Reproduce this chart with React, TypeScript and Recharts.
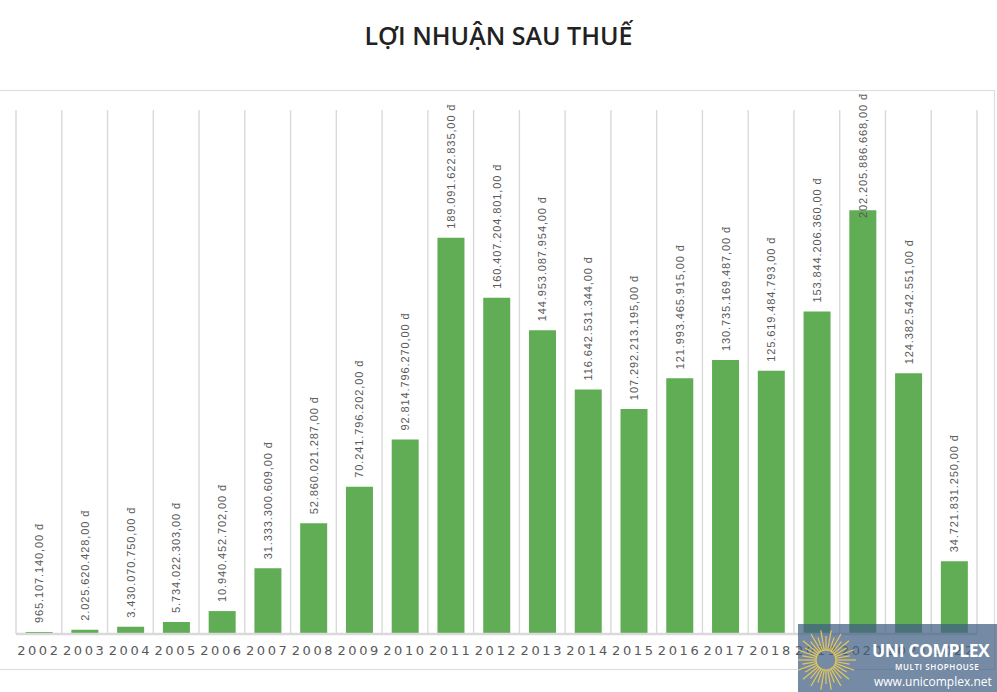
import { BarChart, Bar, XAxis, YAxis, CartesianGrid, LabelList } from 'recharts'

// Năm
const years = [
  '2002', '2003', '2004', '2005', '2006', '2007', '2008', '2009', '2010', '2011', '2012',
  '2013', '2014', '2015', '2016', '2017', '2018', '2019', '2020', '2021', '2022',
]

// Lợi nhuận sau thuế (đồng)
const profit = [
  965107140, 2025620428, 3430070750, 5734022303, 10940452702, 31333300609, 52860021287,
  70241796202, 92814796270, 189091622835, 160407204801, 144953087954, 116642531344,
  107292213195, 121993465915, 130735169487, 125619484793, 153844206360, 202205886668,
  124382542551, 34721831250,
]

const yDomain = [0, 250]

const data = years.map((year, i) => ({ year, value: profit[i] / 1e9, raw: profit[i] }))

const fmt = (n: number) => n.toLocaleString('de-DE', { minimumFractionDigits: 2, maximumFractionDigits: 2 }) + ' đ'

function ValueLabel(props: any) {
  const { x, y, width, index } = props
  const text = fmt(profit[index])
  const cx = x + width / 2
  // nhãn xoay dọc, đẩy xuống nếu vượt khung
  const len = text.length * 6.1
  const start = Math.max(y - 9, 96 + len)
  return (
    <text
      x={cx}
      y={start}
      transform={`rotate(-90, ${cx}, ${start})`}
      textAnchor="start"
      dominantBaseline="central"
      fontSize={11}
      letterSpacing={0.9}
      fill="#595959"
      fontFamily="'Liberation Sans', Arial, sans-serif"
    >
      {text}
    </text>
  )
}

function Watermark() {
  const rays = Array.from({ length: 36 }, (_, i) => (i * 360) / 36)
  return (
    <div
      style={{
        position: 'absolute',
        left: 798,
        top: 624,
        width: 199,
        height: 68,
        background: 'rgba(64, 94, 130, 0.72)',
        fontFamily: "'Open Sans', sans-serif",
        color: '#fff',
        overflow: 'hidden',
        whiteSpace: 'nowrap',
      }}
    >
      <svg width={60} height={68} style={{ position: 'absolute', left: 0, top: 0 }}>
        {rays.map((a) => {
          const r = (a * Math.PI) / 180
          const r2 = a % 20 === 0 ? 30 : 24
          return (
            <line
              key={a}
              x1={28 + Math.cos(r) * 10}
              y1={36 + Math.sin(r) * 10}
              x2={28 + Math.cos(r) * r2}
              y2={36 + Math.sin(r) * r2}
              stroke="#e6c65a"
              strokeWidth={1.2}
            />
          )
        })}
        <circle cx={28} cy={36} r={10} fill="none" stroke="#e6c65a" strokeWidth={1.2} />
      </svg>
      <div style={{ position: 'absolute', left: 74, top: 15, fontSize: 17.5, fontWeight: 700, lineHeight: '22px', letterSpacing: -0.4 }}>
        UNI COMPLEX
      </div>
      <div style={{ position: 'absolute', left: 97, top: 38, fontSize: 8, fontWeight: 600, letterSpacing: 0.6, lineHeight: '10px' }}>
        MULTI SHOPHOUSE
      </div>
      <div style={{ position: 'absolute', left: 76, top: 50, fontSize: 12, lineHeight: '16px' }}>www.unicomplex.net</div>
    </div>
  )
}

export default function App() {
  return (
    <div style={{ position: 'absolute', left: 0, top: 0, width: 997, height: 692, background: '#fff', overflow: 'hidden' }}>
      <div
        style={{
          position: 'absolute',
          left: 0,
          top: 18,
          width: 997,
          textAlign: 'center',
          fontFamily: "'Open Sans', 'Noto Sans', sans-serif",
          fontWeight: 600,
          fontSize: 25,
          color: '#222',
          lineHeight: '34px',
        }}
      >
        LỢI NHUẬN SAU THUẾ
      </div>
      <div
        style={{
          position: 'absolute',
          left: -10,
          top: 90,
          width: 1003,
          height: 578,
          border: '1.5px solid #dcdcdc',
        }}
      />
      <div style={{ position: 'absolute', left: 0, top: 0 }}>
        <BarChart
          width={997}
          height={692}
          data={data}
          margin={{ top: 110, right: 20, left: 16, bottom: 28 }}
          barCategoryGap="21%"
        >
          <CartesianGrid
            horizontal={false}
            stroke="#d9d9d9"
            strokeWidth={1.4}
            verticalCoordinatesGenerator={({ offset }: any) =>
              years.map((_, i) => offset.left + (i * offset.width) / years.length).concat(offset.left + offset.width)
            }
          />
          <XAxis
            dataKey="year"
            height={30}
            tickLine={false}
            axisLine={{ stroke: '#d9d9d9', strokeWidth: 2.5 }}
            tick={{ fontSize: 13, fill: '#595959', letterSpacing: 2.6, fontFamily: "'DejaVu Sans', sans-serif" }}
            tickMargin={6}
            interval={0}
          />
          <YAxis hide domain={yDomain} />
          <Bar dataKey="value" fill="#60ad55" isAnimationActive={false}>
            <LabelList dataKey="value" content={ValueLabel} />
          </Bar>
        </BarChart>
      </div>
      <Watermark />
    </div>
  )
}
